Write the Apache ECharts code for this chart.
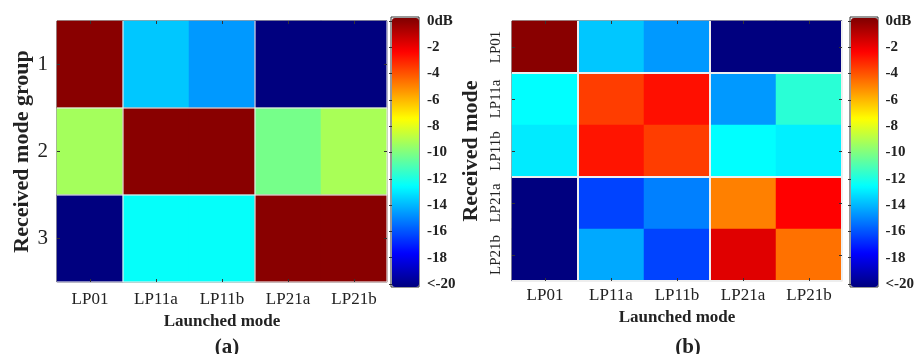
<!DOCTYPE html>
<html>
<head>
<meta charset="utf-8">
<script src="https://cdn.jsdelivr.net/npm/echarts@6/dist/echarts.min.js"></script>
<style>
html,body{margin:0;padding:0;background:#fff;}
#c{width:917px;height:354px;}
</style>
</head>
<body>
<div id="c"></div>
<script>
// ---- data ----
var launched = ['LP01', 'LP11a', 'LP11b', 'LP21a', 'LP21b'];
var groupsA = ['1', '2', '3'];
var modesB = ['LP01', 'LP11a', 'LP11b', 'LP21a', 'LP21b'];
// crosstalk in dB (rows = received, cols = launched)
var rowA1 = [-0.2, -13.6, -14.5, -20, -20];
var rowA2 = [-9.3, -0.2, -0.2, -10.2, -9.2];
var rowA3 = [-20, -12.4, -12.4, -0.2, -0.2];
var rowB1 = [-0.2, -13.6, -14.5, -20, -20];
var rowB2 = [-12.5, -3.7, -2.8, -14.5, -11.7];
var rowB3 = [-12.9, -2.9, -3.7, -12.5, -12.8];
var rowB4 = [-20, -16.2, -15.0, -5.0, -2.5];
var rowB5 = [-20, -14.2, -16.2, -1.9, -4.7];
var colorbarTicks = [0, -2, -4, -6, -8, -10, -12, -14, -16, -18, -20];

var matA = [rowA1, rowA2, rowA3];
var matB = [rowB1, rowB2, rowB3, rowB4, rowB5];
function toCells(m) {
  var out = [];
  m.forEach(function (row, r) { row.forEach(function (v, c) { out.push([c, r, v]); }); });
  return out;
}

var jet = ['#00007F', '#0000FF', '#0080FF', '#00FFFF', '#80FF80', '#FFFF00', '#FF8000', '#FF0000', '#7F0000'];
var SERIF = '"Liberation Serif", "DejaVu Serif", serif';

var chart = echarts.init(document.getElementById('c'), null, {renderer: 'canvas'});

function plotAxes(gi, cats, ycats, ySep, sepColor, sepW, yRotate, yFont, xNameGap, xLabMargin, yNameGap, yName, yLabMargin) {
  var sepX = function (i) { return i === 1 || i === 3; };
  return {
    x: [
      {
        gridIndex: gi, type: 'category', data: cats, position: 'bottom',
        axisLine: {show: false},
        axisTick: {show: true, inside: true, alignWithLabel: true, length: 3, lineStyle: {color: '#333'}},
        axisLabel: {interval: 0, fontFamily: SERIF, fontSize: 17, color: '#222', margin: xLabMargin},
        splitLine: {show: true, interval: sepX, lineStyle: {color: sepColor, width: sepW}},
        name: 'Launched mode', nameLocation: 'middle', nameGap: xNameGap,
        nameTextStyle: {fontFamily: SERIF, fontSize: 17, fontWeight: 'bold', color: '#222'},
        z: 5
      },
      {
        gridIndex: gi, type: 'category', data: cats, position: 'top',
        axisLine: {show: false},
        axisTick: {show: true, interval: 0, inside: true, alignWithLabel: true, length: 3, lineStyle: {color: '#333'}},
        axisLabel: {show: false}, splitLine: {show: false}, z: 5
      }
    ],
    y: [
      {
        gridIndex: gi, type: 'category', data: ycats, inverse: true, position: 'left',
        axisLine: {show: false},
        axisTick: {show: true, interval: 0, inside: true, alignWithLabel: true, length: 3, lineStyle: {color: '#333'}},
        axisLabel: {interval: 0, fontFamily: SERIF, fontSize: yFont, color: '#222', rotate: yRotate, margin: yLabMargin},
        splitLine: {show: true, interval: ySep, lineStyle: {color: sepColor, width: sepW}},
        name: yName, nameLocation: 'middle', nameGap: yNameGap,
        nameTextStyle: {fontFamily: SERIF, fontSize: 22, fontWeight: 'bold', color: '#222'},
        z: 5
      },
      {
        gridIndex: gi, type: 'category', data: ycats, inverse: true, position: 'right',
        axisLine: {show: false},
        axisTick: {show: true, interval: 0, inside: true, alignWithLabel: true, length: 3, lineStyle: {color: '#333'}},
        axisLabel: {show: false}, splitLine: {show: false}, z: 5
      }
    ]
  };
}

var axA = plotAxes(0, launched, groupsA, function (i) { return i === 1 || i === 2; }, 'rgba(235,235,235,0.75)', 1.5, 0, 21, 29, 9, 24, 'Received mode group', 9);
var axB = plotAxes(1, launched, modesB, function (i) { return i === 1 || i === 3; }, '#eeeeee', 2, 90, 15, 25, 6, 30, 'Received mode', 8);

function cbAxis(gi) {
  return {
    gridIndex: gi, type: 'value', min: -20, max: 0, interval: 2, position: 'right',
    axisLine: {show: false},
    axisTick: {show: true, inside: true, length: 3, lineStyle: {color: '#333'}},
    axisLabel: {
      fontFamily: SERIF, fontSize: 15, fontWeight: 'bold', color: '#222', margin: 8,
      formatter: function (v) { return v === 0 ? '0dB' : (v === -20 ? '<-20' : String(v)); }
    },
    splitLine: {show: false}
  };
}

var option = {
  backgroundColor: '#fff',
  animation: false,
  title: [
    {text: '(a)', left: 222, top: 332, textAlign: 'center',
      textStyle: {fontFamily: SERIF, fontSize: 21, fontWeight: 'bold', color: '#222'}},
    {text: '(b)', left: 683, top: 332, textAlign: 'center',
      textStyle: {fontFamily: SERIF, fontSize: 21, fontWeight: 'bold', color: '#222'}}
  ],
  grid: [
    {left: 57, top: 21, width: 330, height: 261, show: true, borderColor: '#444', borderWidth: 1, backgroundColor: 'transparent'},
    {left: 512, top: 21, width: 330, height: 260, show: true, borderColor: '#444', borderWidth: 1, backgroundColor: 'transparent'},
    {left: 392, top: 21, width: 27, height: 263, show: false},
    {left: 851, top: 21, width: 27, height: 263, show: false},
    {left: 391, top: 17, width: 28, height: 270, show: true, borderColor: '#333', borderWidth: 1, backgroundColor: 'transparent'},
    {left: 850, top: 17, width: 28, height: 270, show: true, borderColor: '#333', borderWidth: 1, backgroundColor: 'transparent'}
  ],
  xAxis: axA.x.concat(axB.x).concat([
    {gridIndex: 2, type: 'value', show: false},
    {gridIndex: 3, type: 'value', show: false},
    {gridIndex: 4, type: 'value', show: false},
    {gridIndex: 5, type: 'value', show: false}
  ]),
  yAxis: axA.y.concat(axB.y).concat([
    cbAxis(2), cbAxis(3),
    {gridIndex: 4, type: 'value', show: false},
    {gridIndex: 5, type: 'value', show: false}
  ]),
  visualMap: [
    {type: 'continuous', seriesIndex: 0, min: -20, max: 0, calculable: false, hoverLink: false,
      orient: 'vertical', left: 392, top: 18, itemWidth: 27, itemHeight: 269, padding: 0,
      text: null, showLabel: false, inRange: {color: jet}},
    {type: 'continuous', seriesIndex: 1, min: -20, max: 0, calculable: false, hoverLink: false,
      orient: 'vertical', left: 851, top: 18, itemWidth: 27, itemHeight: 269, padding: 0,
      text: null, showLabel: false, inRange: {color: jet}}
  ],
  series: [
    {type: 'heatmap', xAxisIndex: 0, yAxisIndex: 0, data: toCells(matA),
      itemStyle: {borderWidth: 0}, emphasis: {disabled: true}, progressive: 0},
    {type: 'heatmap', xAxisIndex: 2, yAxisIndex: 2, data: toCells(matB),
      itemStyle: {borderWidth: 0}, emphasis: {disabled: true}, progressive: 0},
    {type: 'line', xAxisIndex: 4, yAxisIndex: 4, data: [], silent: true},
    {type: 'line', xAxisIndex: 5, yAxisIndex: 5, data: [], silent: true}
  ]
};
chart.setOption(option);
</script>
</body>
</html>
